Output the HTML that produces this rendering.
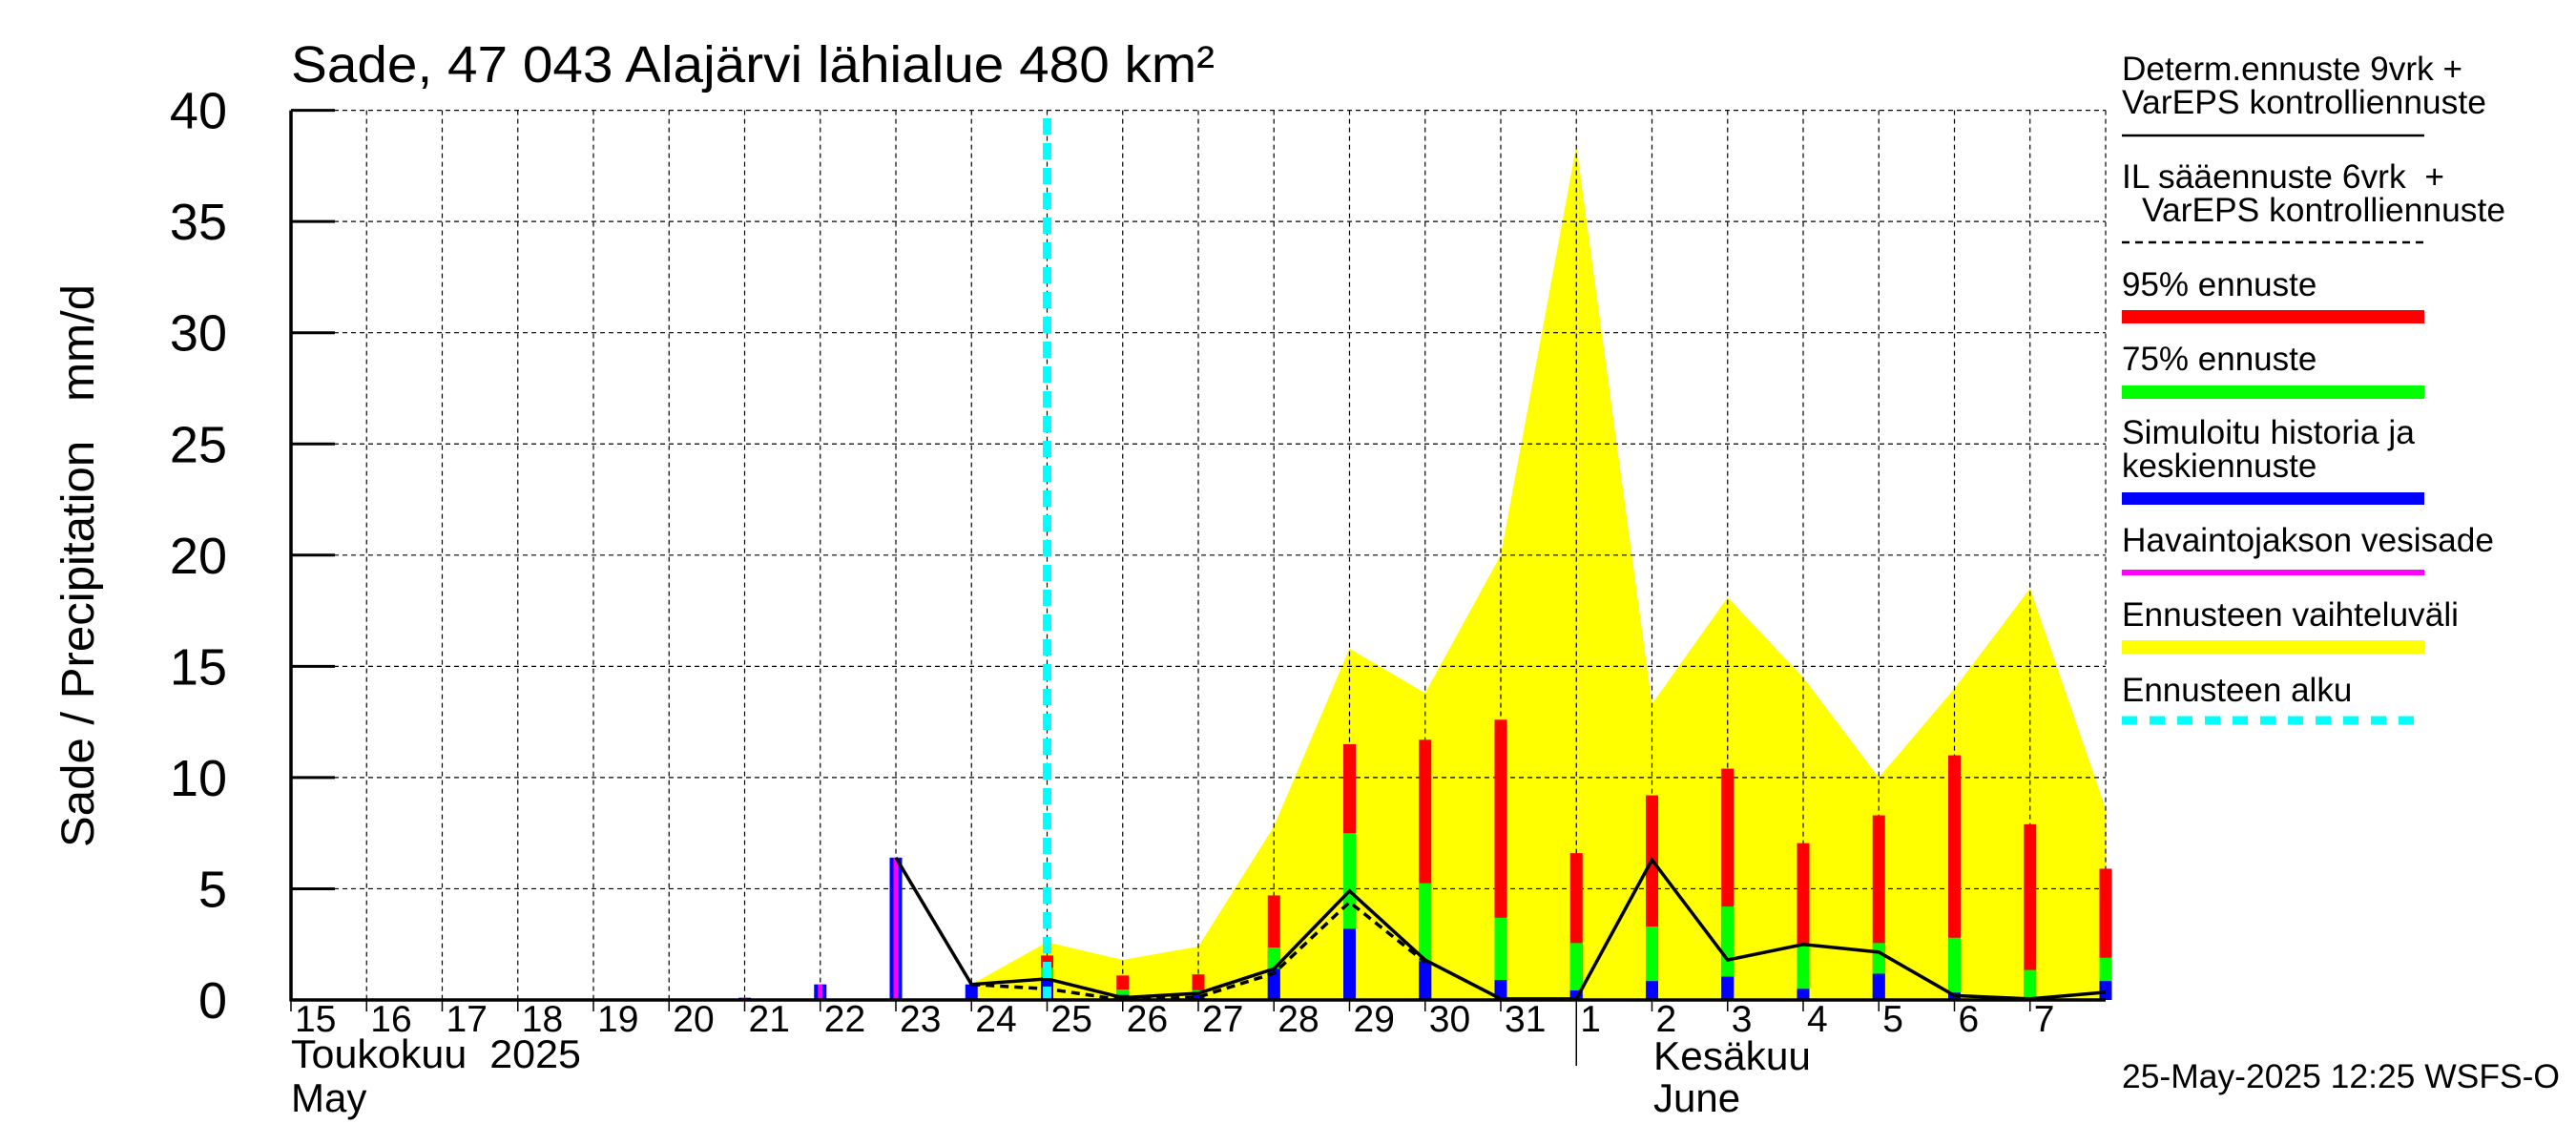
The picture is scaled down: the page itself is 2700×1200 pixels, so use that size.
<!DOCTYPE html>
<html><head><meta charset="utf-8">
<style>
html,body{margin:0;padding:0;background:#fff;}
svg{display:block;font-family:"Liberation Sans",sans-serif;}
</style></head>
<body>
<svg id="chart" width="2700" height="1200" viewBox="0 0 2700 1200" xmlns="http://www.w3.org/2000/svg" xml:space="preserve">
<text x="305" y="86" font-size="54" textLength="968" lengthAdjust="spacingAndGlyphs">Sade, 47 043 Alajärvi lähialue 480 km²</text>
<text transform="translate(98,593) rotate(-90)" text-anchor="middle" font-size="48" textLength="590" lengthAdjust="spacingAndGlyphs">Sade / Precipitation&#160;&#160;&#160;mm/d</text>
<g id="plot"></g>
<g font-size="35">
<text x="2224" y="84" textLength="357" lengthAdjust="spacingAndGlyphs">Determ.ennuste 9vrk +</text>
<text x="2224" y="119" textLength="382" lengthAdjust="spacingAndGlyphs">VarEPS kontrolliennuste</text>
<line x1="2224" y1="142" x2="2541" y2="142" stroke="#000" stroke-width="2.5"/>
<text x="2224" y="197" textLength="338" lengthAdjust="spacingAndGlyphs">IL sääennuste 6vrk&#160;&#160;+</text>
<text x="2245" y="232" textLength="381" lengthAdjust="spacingAndGlyphs">VarEPS kontrolliennuste</text>
<line x1="2224" y1="254" x2="2541" y2="254" stroke="#000" stroke-width="2.5" stroke-dasharray="8 6"/>
<text x="2224" y="310">95% ennuste</text>
<rect x="2224" y="325" width="317" height="14" fill="#ff0000"/>
<text x="2224" y="388">75% ennuste</text>
<rect x="2224" y="404" width="317" height="14" fill="#00ff00"/>
<text x="2224" y="465" textLength="307" lengthAdjust="spacingAndGlyphs">Simuloitu historia ja</text>
<text x="2224" y="500">keskiennuste</text>
<rect x="2224" y="516" width="317" height="13" fill="#0000ff"/>
<text x="2224" y="578" textLength="390" lengthAdjust="spacingAndGlyphs">Havaintojakson vesisade</text>
<rect x="2224" y="597" width="317" height="6" fill="#ff00ff"/>
<text x="2224" y="656" textLength="353" lengthAdjust="spacingAndGlyphs">Ennusteen vaihteluväli</text>
<rect x="2224" y="671" width="317" height="14" fill="#ffff00"/>
<text x="2224" y="735">Ennusteen alku</text>
<line x1="2224" y1="755" x2="2541" y2="755" stroke="#00ffff" stroke-width="9" stroke-dasharray="16 13"/>
</g>
<text x="2224" y="1140" font-size="35" textLength="459" lengthAdjust="spacingAndGlyphs">25-May-2025 12:25 WSFS-O</text>
<text x="305" y="1119" font-size="42" textLength="304" lengthAdjust="spacingAndGlyphs">Toukokuu&#160;&#160;2025</text>
<text x="305" y="1165" font-size="42">May</text>
<text x="1733" y="1121" font-size="42" textLength="165" lengthAdjust="spacingAndGlyphs">Kesäkuu</text>
<text x="1733" y="1165" font-size="42">June</text>
</svg>
<script>
const dayLabels = ["15","16","17","18","19","20","21","22","23","24","25","26","27","28","29","30","31","1","2","3","4","5","6","7"];
const yTicks = [0,5,10,15,20,25,30,35,40];
// observed precipitation (index = day boundary from 15 May)
const obsIdx = [5,6,7,8];
const obsVals = [0.05,0.1,0.7,6.4];
const simHistIdx = [9];
const simHistVals = [0.7];
// forecast bars at indices 10..24
const fcIdx = [10,11,12,13,14,15,16,17,18,19,20,21,22,23,24];
const p95 = [2.0,1.1,1.15,4.7,11.5,11.7,12.6,6.6,9.2,10.4,7.05,8.3,11.0,7.9,5.9];
const p75 = [1.45,0.47,0.44,2.36,7.5,5.25,3.7,2.56,3.3,4.2,2.46,2.56,2.8,1.35,1.9];
const mean = [0.95,0.23,0.23,1.4,3.2,1.75,0.9,0.43,0.85,1.05,0.5,1.18,0.33,0.1,0.85];
const rangeIdx = [9,10,11,12,13,14,15,16,17,18,19,20,21,22,23,24];
const rangeMax = [0.7,2.6,1.8,2.4,7.8,15.8,13.8,20,38.4,13.3,18.1,14.5,10,14,18.5,8.6];
const detIdx = [8,9,10,11,12,13,14,15,16,17,18,19,20,21,22,23,24];
const detVals = [6.4,0.7,0.95,0.1,0.3,1.4,4.9,1.8,0.05,0.05,6.3,1.8,2.5,2.15,0.2,0.05,0.35];
const ilIdx = [9,10,11,12,13,14,15];
const ilVals = [0.7,0.5,0.0,0.13,1.2,4.4,1.7];
const forecastStart = 10;

const X0=305, X1=2207, Y0=1048, YT=115.6, NDAYS=24;
const xs = i => X0 + (X1-X0)*i/NDAYS;
const ys = v => Y0 - (Y0-YT)*v/40;
const NS="http://www.w3.org/2000/svg";
const plot=document.getElementById('plot');
function mk(tag, attrs, parent){const e=document.createElementNS(NS,tag);for(const k in attrs)e.setAttribute(k,attrs[k]);(parent||plot).appendChild(e);return e;}

// yellow range
let pts = rangeIdx.map((d,j)=>xs(d)+','+ys(rangeMax[j]));
pts.push(xs(rangeIdx[rangeIdx.length-1])+','+ys(0));
pts.push(xs(rangeIdx[0])+','+ys(0));
const poly=mk('polygon',{points:pts.join(' '),fill:'#ffff00'});



// grid
for(let i=1;i<=NDAYS;i++){
  const g=mk('line',{x1:xs(i),y1:YT,x2:xs(i),y2:Y0,stroke:'#000','stroke-width':1.2,'stroke-dasharray':'5 4'});
  
  
}
yTicks.forEach(v=>{
  if(v>0){
    const g=mk('line',{x1:X0,y1:ys(v),x2:X1,y2:ys(v),stroke:'#000','stroke-width':1.2,'stroke-dasharray':'5 4'});
    
    
  }
  const t=mk('line',{x1:X0,y1:ys(v),x2:X0+46,y2:ys(v),stroke:'#000','stroke-width':3});
  
  
  const l=mk('text',{x:238,y:ys(v)+19,'text-anchor':'end','font-size':54});
  l.textContent=v;
  
  
});

// bars
const BW=13;
function bar(i,v,color,w,name){
  const r=mk('rect',{x:xs(i)-w/2,y:ys(v),width:w,height:Math.max(Y0-ys(v),1.5),fill:color});
  
  
}
obsIdx.forEach((d,j)=>{bar(d,obsVals[j],'#0000ff',BW,'observed-bar-outline');bar(d,obsVals[j],'#ff00ff',5,'observed-bar');});
simHistIdx.forEach((d,j)=>bar(d,simHistVals[j],'#0000ff',BW,'simulated-history-bar'));
fcIdx.forEach((d,j)=>{
  bar(d,p95[j],'#ff0000',BW,'p95-bar');
  bar(d,p75[j],'#00ff00',BW,'p75-bar');
  bar(d,mean[j],'#0000ff',BW,'mean-bar');
});

// lines
const det=mk('polyline',{points:detIdx.map((d,j)=>xs(d)+','+ys(detVals[j])).join(' '),fill:'none',stroke:'#000','stroke-width':3.5});


const il=mk('polyline',{points:ilIdx.map((d,j)=>xs(d)+','+ys(ilVals[j])).join(' '),fill:'none',stroke:'#000','stroke-width':3.5,'stroke-dasharray':'9 6'});



// forecast start
const fs=mk('line',{x1:xs(forecastStart),y1:124,x2:xs(forecastStart),y2:Y0,stroke:'#00ffff','stroke-width':9,'stroke-dasharray':'17 9'});



// axes
const ax=mk('line',{x1:X0,y1:YT,x2:X0,y2:Y0+1.5,stroke:'#000','stroke-width':3.5});


const bx=mk('line',{x1:X0,y1:Y0,x2:X1,y2:Y0,stroke:'#000','stroke-width':3.5});



// x ticks and labels
dayLabels.forEach((lab,i)=>{
  const len = (lab==="1") ? 69 : 12;
  const t=mk('line',{x1:xs(i),y1:Y0,x2:xs(i),y2:Y0+len,stroke:'#000','stroke-width':1.5});
  
  
  const l=mk('text',{x:xs(i)+4,y:1081,'font-size':39});
  l.textContent=lab;
  
  
});
</script>
</body></html>
